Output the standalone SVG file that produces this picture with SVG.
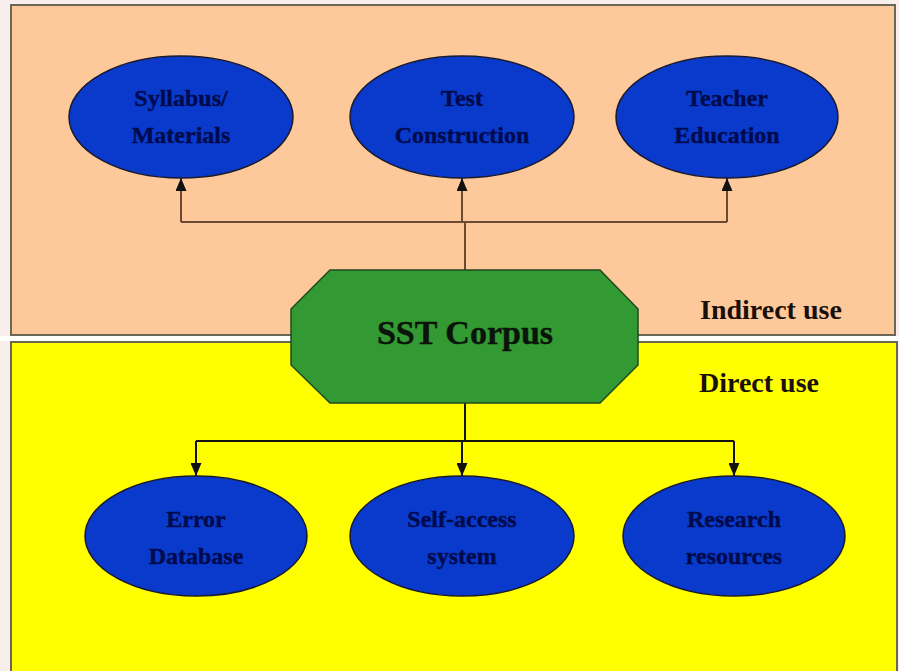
<svg xmlns="http://www.w3.org/2000/svg" width="899" height="671" viewBox="0 0 899 671">
  <defs>
    <style>
      .band { stroke: #6b6656; stroke-width: 2; }
      .oval { fill: #0a3acc; stroke: #1a1a30; stroke-width: 1.5; }
      .otxt { font-family: "Liberation Serif", "Times New Roman", serif; font-weight: bold; font-size: 24px; fill: #000b4d; stroke: #000b4d; stroke-width: 0.4; text-anchor: middle; }
      .lbl { font-family: "Liberation Serif", "Times New Roman", serif; font-weight: bold; font-size: 28px; fill: #1a0f0a; }
      .wire { fill: none; stroke-width: 2; }
      .up { stroke: #6a4a32; }
      .dn { stroke: #141414; }
    </style>
    <marker id="ahd" viewBox="0 0 11 13" refX="5.5" refY="13" markerWidth="11" markerHeight="13" markerUnits="userSpaceOnUse" orient="0">
      <path d="M0,0 L11,0 L5.5,13 Z" fill="#111"/>
    </marker>
    <marker id="ahu" viewBox="0 0 11 13" refX="5.5" refY="0" markerWidth="11" markerHeight="13" markerUnits="userSpaceOnUse" orient="0">
      <path d="M0,13 L11,13 L5.5,0 Z" fill="#111"/>
    </marker>
  </defs>

  <rect x="0" y="0" width="899" height="671" fill="#f8efec"/>

  <g id="indirect-band">
    <rect class="band" x="11" y="5" width="884" height="330" fill="#fdc99a"/>
    <text class="lbl" x="700" y="319">Indirect use</text>
  </g>
  <rect x="0" y="336" width="899" height="5" fill="#ffffff"/>
  <g id="direct-band">
    <rect class="band" x="11" y="342" width="886" height="332" fill="#ffff00"/>
    <text class="lbl" x="699" y="392">Direct use</text>
  </g>

  <g id="connectors">
    <path class="wire up" d="M465,270 V222 M181,222 H727"/>
    <line class="wire up" x1="181" y1="222" x2="181" y2="178" marker-end="url(#ahu)"/>
    <line class="wire up" x1="462" y1="222" x2="462" y2="178" marker-end="url(#ahu)"/>
    <line class="wire up" x1="727" y1="222" x2="727" y2="178" marker-end="url(#ahu)"/>
    <path class="wire dn" d="M465,403 V441 M196,441 H734"/>
    <line class="wire dn" x1="196" y1="441" x2="196" y2="476" marker-end="url(#ahd)"/>
    <line class="wire dn" x1="462" y1="441" x2="462" y2="476" marker-end="url(#ahd)"/>
    <line class="wire dn" x1="734" y1="441" x2="734" y2="476" marker-end="url(#ahd)"/>
  </g>

  <g id="syllabus">
    <ellipse class="oval" cx="181" cy="117" rx="112" ry="61"/>
    <text class="otxt" x="181" y="106">Syllabus/</text>
    <text class="otxt" x="181" y="143">Materials</text>
  </g>
  <g id="test">
    <ellipse class="oval" cx="462" cy="117" rx="112" ry="61"/>
    <text class="otxt" x="462" y="106">Test</text>
    <text class="otxt" x="462" y="143">Construction</text>
  </g>
  <g id="teacher">
    <ellipse class="oval" cx="727" cy="117" rx="111" ry="61"/>
    <text class="otxt" x="727" y="106">Teacher</text>
    <text class="otxt" x="727" y="143">Education</text>
  </g>

  <g id="sst-corpus">
    <polygon points="330,270 600,270 638,309 638,365 600,403 330,403 291,365 291,309" fill="#339933" stroke="#1f4a1f" stroke-width="1.5"/>
    <text x="465" y="344" text-anchor="middle" font-family="Liberation Serif, Times New Roman, serif" font-weight="bold" font-size="34" fill="#0a140a" stroke="#0a140a" stroke-width="0.4">SST Corpus</text>
  </g>

  <g id="error">
    <ellipse class="oval" cx="196" cy="536" rx="111" ry="60"/>
    <text class="otxt" x="196" y="527">Error</text>
    <text class="otxt" x="196" y="564">Database</text>
  </g>
  <g id="self-access">
    <ellipse class="oval" cx="462" cy="536" rx="112" ry="60"/>
    <text class="otxt" x="462" y="527">Self-access</text>
    <text class="otxt" x="462" y="564">system</text>
  </g>
  <g id="research">
    <ellipse class="oval" cx="734" cy="536" rx="111" ry="60"/>
    <text class="otxt" x="734" y="527">Research</text>
    <text class="otxt" x="734" y="564">resources</text>
  </g>
</svg>
